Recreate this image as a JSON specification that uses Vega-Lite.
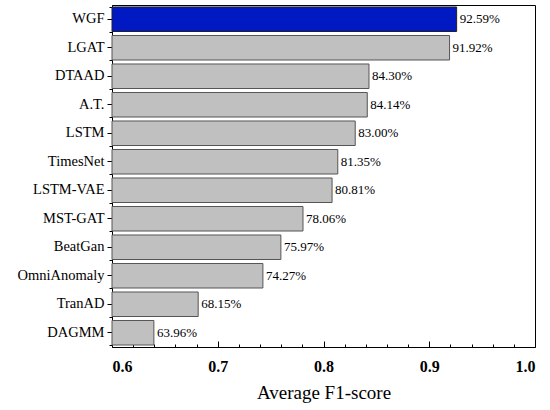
{
  "$schema": "https://vega.github.io/schema/vega-lite/v6.json",
  "width": 423,
  "height": 342,
  "autosize": {"type": "none"},
  "padding": {"left": 112, "top": 5, "right": 15, "bottom": 63},
  "background": "white",
  "config": {
    "view": {"stroke": "black", "strokeWidth": 1},
    "font": "Liberation Serif"
  },
  "data": {
    "values": [
      {"model": "WGF", "f1": 0.9259, "label": "92.59%", "highlight": "yes"},
      {"model": "LGAT", "f1": 0.9192, "label": "91.92%", "highlight": "no"},
      {"model": "DTAAD", "f1": 0.8430, "label": "84.30%", "highlight": "no"},
      {"model": "A.T.", "f1": 0.8414, "label": "84.14%", "highlight": "no"},
      {"model": "LSTM", "f1": 0.8300, "label": "83.00%", "highlight": "no"},
      {"model": "TimesNet", "f1": 0.8135, "label": "81.35%", "highlight": "no"},
      {"model": "LSTM-VAE", "f1": 0.8081, "label": "80.81%", "highlight": "no"},
      {"model": "MST-GAT", "f1": 0.7806, "label": "78.06%", "highlight": "no"},
      {"model": "BeatGan", "f1": 0.7597, "label": "75.97%", "highlight": "no"},
      {"model": "OmniAnomaly", "f1": 0.7427, "label": "74.27%", "highlight": "no"},
      {"model": "TranAD", "f1": 0.6815, "label": "68.15%", "highlight": "no"},
      {"model": "DAGMM", "f1": 0.6396, "label": "63.96%", "highlight": "no"}
    ]
  },
  "layer": [
    {
      "mark": {"type": "bar", "strokeWidth": 1},
      "encoding": {
        "y": {
          "field": "model",
          "type": "nominal",
          "sort": null,
          "scale": {"paddingInner": 0.14, "paddingOuter": 0.07},
          "axis": {
            "title": null,
            "labelFont": "Liberation Serif",
            "labelFontSize": 14.5,
            "labelColor": "black",
            "tickSize": 5,
            "tickColor": "black",
            "domainColor": "black",
            "labelPadding": 3
          }
        },
        "x": {
          "field": "f1",
          "type": "quantitative",
          "scale": {"domain": [0.6, 1.0], "zero": false, "nice": false},
          "axis": {
            "values": [0.6, 0.7, 0.8, 0.9, 1.0],
            "format": ".1f",
            "offset": -6,
            "domain": false,
            "title": "Average F1-score",
            "titleFont": "Liberation Serif",
            "titleFontSize": 19,
            "titleFontWeight": "normal",
            "titleColor": "black",
            "titlePadding": 9,
            "labelFont": "Liberation Serif",
            "labelFontSize": 16,
            "labelFontWeight": "bold",
            "labelColor": "black",
            "tickSize": 6,
            "tickColor": "black",
            "labelPadding": 11,
            "grid": false
          }
        },
        "x2": {"datum": 0.6},
        "color": {
          "field": "highlight",
          "type": "nominal",
          "scale": {"domain": ["yes", "no"], "range": ["#0019c2", "#c0c0c0"]},
          "legend": null
        },
        "stroke": {
          "field": "highlight",
          "type": "nominal",
          "scale": {"domain": ["yes", "no"], "range": ["#222222", "#555555"]},
          "legend": null
        }
      }
    },
    {
      "mark": {"type": "text", "align": "left", "baseline": "middle", "dx": 3, "fontSize": 13, "font": "Liberation Serif", "color": "black"},
      "encoding": {
        "y": {
          "field": "model",
          "type": "nominal",
          "sort": null,
          "axis": {
            "orient": "left",
            "title": null,
            "labels": false,
            "domain": false,
            "tickBand": "extent",
            "tickSize": 3,
            "tickColor": "black"
          }
        },
        "x": {
          "field": "f1",
          "type": "quantitative",
          "axis": {
            "values": [0.62, 0.64, 0.66, 0.68, 0.72, 0.74, 0.76, 0.78, 0.82, 0.84, 0.86, 0.88, 0.92, 0.94, 0.96, 0.98],
            "orient": "bottom",
            "offset": -3,
            "labels": false,
            "title": null,
            "tickSize": 3,
            "tickColor": "black",
            "domain": false,
            "grid": false
          }
        },
        "text": {"field": "label"}
      }
    }
  ],
  "resolve": {"axis": {"x": "independent", "y": "independent"}}
}
